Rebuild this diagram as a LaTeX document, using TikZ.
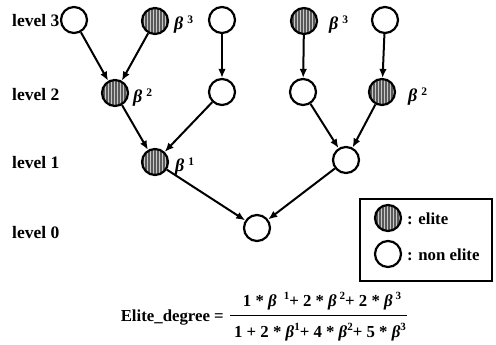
\documentclass[tikz,border=0pt]{standalone}
\usepackage{fontspec}
\setmainfont{Liberation Serif}
\usetikzlibrary{arrows.meta,patterns}
\tikzset{
  nonelite/.style={circle,draw,line width=2.2pt,minimum size=26pt,inner sep=0pt,fill=white},
  elite/.style={circle,draw,line width=2.2pt,minimum size=26pt,inner sep=0pt,
     preaction={fill=black!65},pattern=vertical lines,pattern color=black!22},
  conn/.style={line width=2pt,-{Latex[length=9pt,width=7.5pt]}},
  lvl/.style={anchor=west,inner sep=0pt,font=\bfseries\fontsize{17.5}{17.5}\selectfont},
  blab/.style={anchor=west,inner sep=0pt,font=\bfseries\itshape\fontsize{18}{18}\selectfont},
  txt/.style={inner sep=0pt,font=\bfseries\fontsize{16.8}{16.8}\selectfont}
}
\newcommand{\bsup}[1]{\hspace{4pt}{\upshape\fontsize{11.5}{11.5}\selectfont\raisebox{6pt}{#1}}}
\newcommand{\bb}{{\itshape β}}
\newcommand{\sps}[1]{\raisebox{7pt}{\fontsize{11}{11}\selectfont #1}}
\begin{document}
\begin{tikzpicture}[x=1pt,y=-1pt]
\useasboundingbox (0,0) rectangle (496,345);
% level labels
\node[lvl] (l3) at (12,21) {level 3};
\node[lvl] (l2) at (12,95) {level 2};
\node[lvl] (l1) at (12,163) {level 1};
\node[lvl] (l0) at (12,233) {level 0};
% level 3
\node[nonelite] (a1) at (74,20) {};
\node[elite]    (a2) at (155,21) {};
\node[nonelite] (a3) at (222,20) {};
\node[elite]    (a4) at (304,21) {};
\node[nonelite] (a5) at (385,20) {};
% level 2
\node[elite]    (b1) at (115,93) {};
\node[nonelite] (b2) at (222,92) {};
\node[nonelite] (b3) at (303,92) {};
\node[elite]    (b4) at (382,92) {};
% level 1
\node[elite]    (c1) at (155,162) {};
\node[nonelite] (c2) at (346,160) {};
% level 0
\node[nonelite] (d1) at (257,228) {};
% beta labels
\node[blab] (t1) at (174,25) {β\bsup{3}};
\node[blab] (t2) at (329,25) {β\bsup{3}};
\node[blab] (t3) at (133,98) {β\bsup{2}};
\node[blab] (t4) at (408,97) {β\bsup{2}};
\node[blab] (t5) at (175,167) {β\bsup{1}};
% connectors
\draw[conn] (a1) -- (b1);
\draw[conn] (a2) -- (b1);
\draw[conn] (a3) -- (b2);
\draw[conn] (a4) -- (b3);
\draw[conn] (a5) -- (b4);
\draw[conn] (b1) -- (c1);
\draw[conn] (b2) -- (c1);
\draw[conn] (b3) -- (c2);
\draw[conn] (b4) -- (c2);
\draw[conn] (c1) -- (d1);
\draw[conn] (c2) -- (d1);
% legend
\draw[line width=2pt] (360,199) rectangle (492,281);
\node[elite]    (le) at (388,218) {};
\node[nonelite] (ln) at (388,254) {};
\node[txt,anchor=west] (lt1) at (407,219) {: elite};
\node[txt,anchor=west] (lt2) at (407,255) {: non elite};
% formula
\node[txt,anchor=east] (fl) at (224,318) {Elite\_degree =};
\node[txt] (fn) at (322,301) {1 * \bb\ \,\sps{1}+ 2 * \bb\,\sps{2}+ 2 * \bb\,\sps{3}};
\node[txt] (fd) at (320,332) {1 + 2 * \bb\sps{1}+ 4 * \bb\sps{2}+ 5 * \bb\sps{3}};
\draw[line width=1pt] (230,315) -- (407,315);
\end{tikzpicture}
\end{document}
